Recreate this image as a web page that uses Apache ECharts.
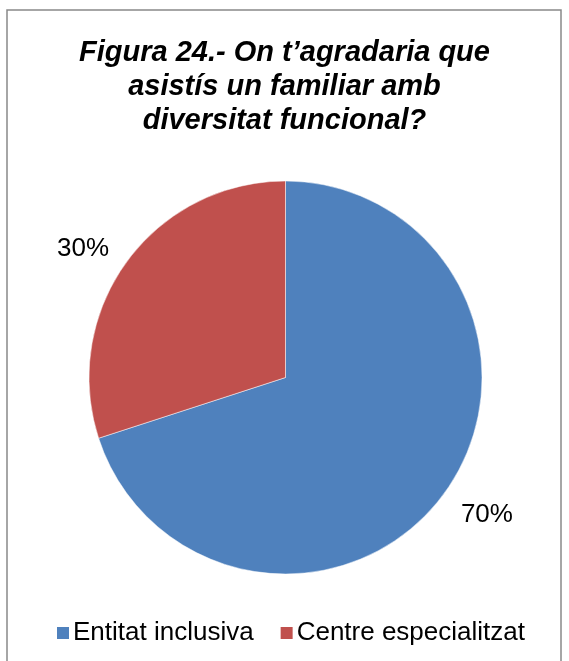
<!DOCTYPE html>
<html>
<head>
<meta charset="utf-8">
<script src="https://cdn.jsdelivr.net/npm/echarts@6/dist/echarts.min.js"></script>
<style>
  html, body { margin: 0; padding: 0; background: #fff; }
  #chart { width: 569px; height: 661px; }
</style>
</head>
<body>
<div id="chart"></div>
<script>
// dades de la figura
const categories = ['Entitat inclusiva', 'Centre especialitzat']
const values = [70, 30]
const colors = ['#4F81BD', '#C0504D']
const titleText = 'Figura 24.- On t\u2019agradaria que\nasistís un familiar amb\ndiversitat funcional?'

const chart = echarts.init(document.getElementById('chart'))
chart.setOption({
  animation: false,
  color: colors,
  title: {
    text: titleText,
    left: 'center',
    top: 31,
    padding: [5, 5, 5, 17],
    textStyle: {
      fontFamily: 'Liberation Sans, Arial, sans-serif',
      fontSize: 29,
      fontWeight: 'bold',
      fontStyle: 'italic',
      color: '#000',
      lineHeight: 34,
      align: 'center'
    }
  },
  legend: {
    data: categories,
    left: 50,
    top: 615,
    icon: 'rect',
    itemWidth: 14,
    itemHeight: 14,
    itemGap: 25,
    textStyle: { fontFamily: 'Liberation Sans, Arial, sans-serif', fontSize: 26, color: '#000', padding: [0, 0, 0, -2] }
  },
  graphic: [{
    type: 'rect',
    shape: { x: 7, y: 10, width: 554, height: 670 },
    style: { fill: 'none', stroke: '#898989', lineWidth: 1.5 },
    silent: true
  }],
  series: [{
    type: 'pie',
    center: [285.5, 377.5],
    radius: 196.5,
    startAngle: 90,
    clockwise: true,
    avoidLabelOverlap: false,
    data: categories.map((name, i) => ({ name, value: values[i] })),
    label: {
      show: true,
      position: 'outside',
      formatter: '{c}%',
      fontFamily: 'Liberation Sans, Arial, sans-serif',
      fontSize: 26,
      color: '#000',
      distanceToLabelLine: 0
    },
    labelLine: { show: false, length: 24, length2: 0 },
    labelLayout: p => (p.dataIndex === 0 ? { dx: -3, dy: 8 } : { dx: 2, dy: 1 }),
    itemStyle: { borderColor: '#fff', borderWidth: 0.5 }
  }]
})
</script>
</body>
</html>
